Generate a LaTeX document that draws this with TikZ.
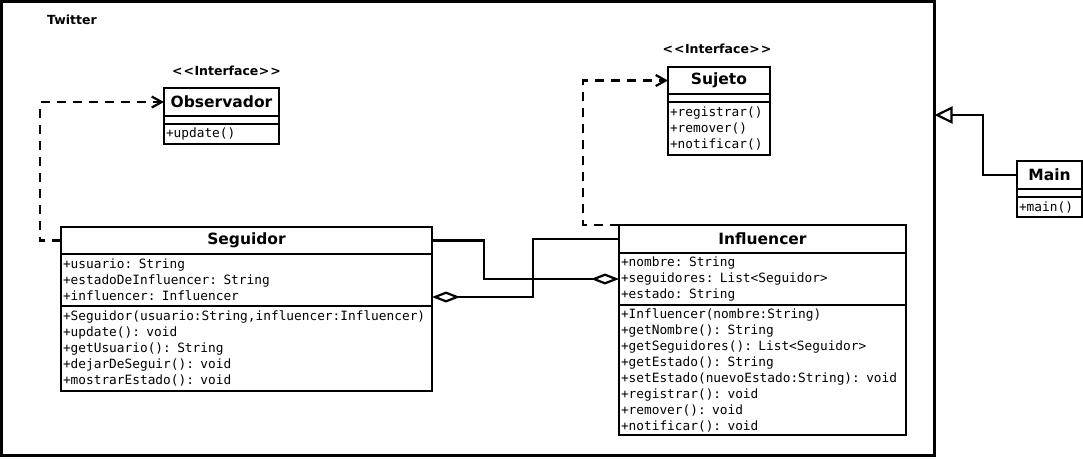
\documentclass[tikz,border=0pt]{standalone}
\usepackage{fontspec}
\setmainfont{DejaVu Sans}
\setmonofont{DejaVu Sans Mono}
\usepackage{tikz}
\usetikzlibrary{arrows.meta, positioning}

\begin{document}
\begin{tikzpicture}[x=1pt, y=-1pt,
    classname/.style={rectangle, draw, line width=2.2pt, outer sep=0pt, anchor=north west, minimum height=28pt, font=\fontsize{15.5}{18}\selectfont\bfseries},
    classbody/.style={rectangle, draw, line width=2.2pt, outer sep=0pt, inner xsep=2pt, inner ysep=2pt, align=left, font=\fontsize{12.8}{16}\selectfont\ttfamily},
    stereo/.style={inner sep=0pt, font=\fontsize{12.5}{14}\selectfont\bfseries},
    realize/.style={line width=2.2pt, dash pattern=on 9pt off 7pt, -{Straight Barb[length=10pt, width=11pt]}},
    aggr/.style={line width=2.2pt, {Diamond[open, length=28pt, width=11pt]}-},
    inherit/.style={line width=2.2pt, -{Triangle[open, length=18pt, width=17pt]}}]
    \useasboundingbox (0,0) rectangle (1083,459);

    % paquete
    \node[draw, line width=2.4pt, outer sep=0pt, anchor=north west, minimum width=933pt, minimum height=454pt] (twitter) at (1.5,1.5) {};
    \node[stereo] (twitterName) at (72,20) {Twitter};

    % Observador
    \node[classname, minimum width=115pt] (obsN) at (164,88) {Observador};
    \node[classbody, text width=111pt, minimum height=8pt, below=0pt of obsN] (obsA) {};
    \node[classbody, text width=111pt, minimum height=20pt, below=0pt of obsA] (obsM) {+update()};
    \node[stereo, above=12pt of obsN, xshift=5pt] (obsS) {<\kern1pt<\kern0.5ptInterface\kern0.5pt>\kern1pt>};

    % Sujeto
    \node[classname, minimum width=102pt, minimum height=27pt] (sujN) at (668,67) {Sujeto};
    \node[classbody, text width=98pt, minimum height=8pt, below=0pt of sujN] (sujA) {};
    \node[classbody, text width=98pt, minimum height=53pt, below=0pt of sujA] (sujM) {+registrar()\\+remover()\\+notificar()};
    \node[stereo, above=13pt of sujN, xshift=-2pt] (sujS) {<\kern1pt<\kern0.5ptInterface\kern0.5pt>\kern1pt>};

    % Seguidor
    \node[classname, minimum width=371pt, minimum height=27pt] (segN) at (61,227) {Seguidor};
    \node[classbody, text width=367pt, minimum height=52pt, below=0pt of segN] (segA) {+usuario: String\\+estadoDeInfluencer: String\\+influencer: Influencer};
    \node[classbody, text width=367pt, minimum height=85pt, below=0pt of segA] (segM) {+Seguidor(usuario:String,influencer:Influencer)\\+update(): void\\+getUsuario(): String\\+dejarDeSeguir(): void\\+mostrarEstado(): void};

    % Influencer
    \node[classname, minimum width=287pt] (infN) at (619,225) {Influencer};
    \node[classbody, text width=283pt, minimum height=52pt, below=0pt of infN] (infA) {+nombre: String\\+seguidores: List<Seguidor>\\+estado: String};
    \node[classbody, text width=283pt, minimum height=130pt, below=0pt of infA] (infM) {+Influencer(nombre:String)\\+getNombre(): String\\+getSeguidores(): List<Seguidor>\\+getEstado(): String\\+setEstado(nuevoEstado:String): void\\+registrar(): void\\+remover(): void\\+notificar(): void};

    % Main
    \node[classname, minimum width=65pt] (mainN) at (1017,161) {Main};
    \node[classbody, text width=61pt, minimum height=8pt, below=0pt of mainN] (mainA) {};
    \node[classbody, text width=61pt, minimum height=20pt, below=0pt of mainA] (mainM) {+main()};

    % relaciones
    \draw[realize] (segN.west) -- ++(-21,0) |- (obsN.west);
    \draw[realize] (infN.north west) -- ++(-36,0) |- (sujN.west);
    \draw[aggr] (infA.west) -- ++(-135,0) |- (segN.east);
    \draw[aggr] ([yshift=9pt]segA.south east) -- ++(101,0) |- (infN.west);
    \coordinate (genBend) at (983,115);
    \draw[inherit] (mainN.west) -| (genBend) -- (genBend -| twitter.east);
\end{tikzpicture}
\end{document}
